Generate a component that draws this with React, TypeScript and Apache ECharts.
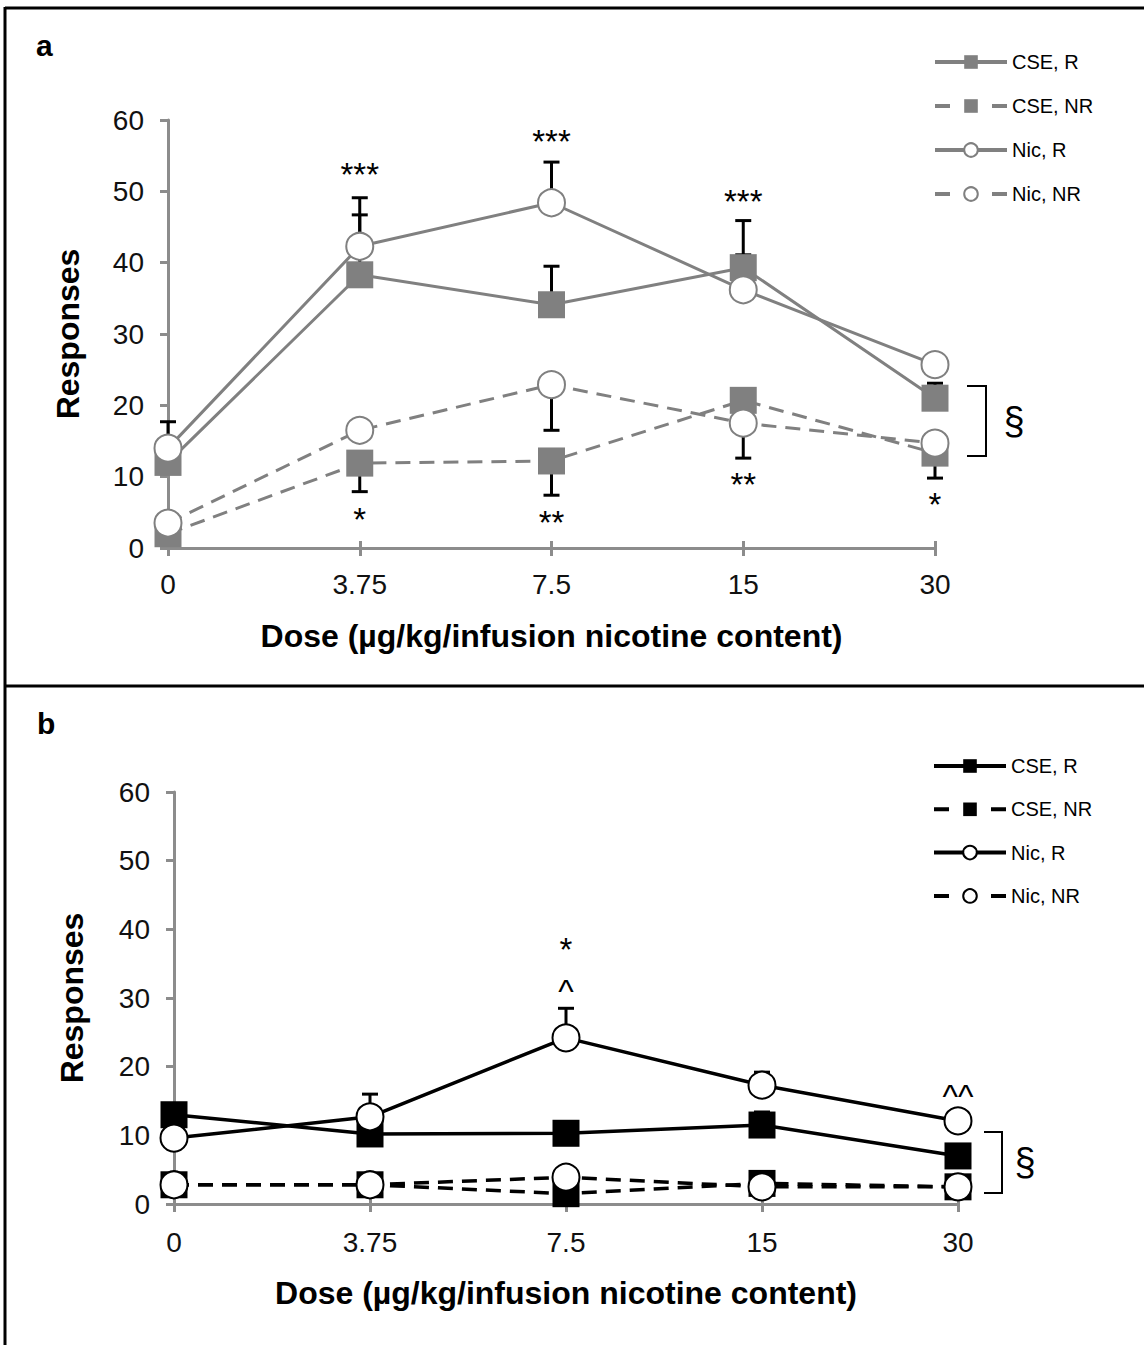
import React, { useEffect, useRef } from "react";
import * as echarts from "echarts";

const doses = ["0", "3.75", "7.5", "15", "30"];
const groupNames = ["CSE, R", "CSE, NR", "Nic, R", "Nic, NR"];
const xTitle = "Dose (µg/kg/infusion nicotine content)";
const yTitle = "Responses";

// Panel a (grey)
const aCseR = [12.0, 38.3, 34.1, 39.3, 21.0];
const aCseNR = [2.0, 11.9, 12.2, 20.7, 13.3];
const aNicR = [14.0, 42.3, 48.4, 36.2, 25.7];
const aNicNR = [3.5, 16.5, 22.9, 17.5, 14.7];
// error bars: [dose index, mean, end of bar]
const aErrors = [
  [0, 14.0, 17.7], [1, 38.3, 46.7], [1, 42.3, 49.1], [2, 34.1, 39.5], [2, 48.4, 54.1],
  [3, 39.3, 45.9], [3, 36.2, 41.1], [4, 21.0, 23.1],
  [1, 11.9, 7.9], [2, 22.9, 16.5], [2, 12.2, 7.4], [3, 17.5, 12.6], [4, 13.3, 9.8],
];
const aAnnotPos = [[1, 52.3], [2, 57.0], [3, 48.6], [1, 4.0], [2, 3.6], [3, 8.9], [4, 6.1]];
const aAnnotText = ["***", "***", "***", "*", "**", "**", "*"];
const aBracket = [[4, 22.7, 12.9]];

// Panel b (black)
const bCseR = [13.0, 10.2, 10.3, 11.5, 7.0];
const bCseNR = [2.8, 2.8, 1.5, 3.0, 2.5];
const bNicR = [9.6, 12.7, 24.2, 17.3, 12.1];
const bNicNR = [2.8, 2.8, 3.9, 2.5, 2.5];
const bErrors = [[1, 12.7, 16.0], [2, 24.2, 28.5], [3, 17.3, 19.2], [3, 11.5, 13.4]];
const bAnnotPos = [[2, 37.0], [2, 31.0], [4, 15.7]];
const bAnnotText = ["*", "^", "^^"];
const bBracket = [[4, 10.5, 1.6]];

const FONT = "'Liberation Sans', Arial, Helvetica, sans-serif";
const AXIS_GREY = "#8c8c8c";

function buildPanel(
  idx: number,
  prefix: string,
  color: string,
  values: number[][],
  errors: number[][],
  annotPos: number[][],
  annotText: string[],
  bracket: number[][],
  br: { x0: number; x1: number; sx: number },
  lineW: number
) {
  const series: any[] = [];
  values.forEach((vals, i) => {
    const isRect = i < 2;
    const dashed = i % 2 === 1;
    series.push({
      type: "line",
      name: prefix + groupNames[i],
      data: vals,
      symbol: isRect ? "rect" : "circle",
      symbolSize: 27,
      showAllSymbol: true,
      z: 3,
      lineStyle: { color, width: lineW, type: dashed ? [15, 9] : "solid" },
      itemStyle: isRect
        ? { color, borderWidth: 0 }
        : { color: "#ffffff", borderColor: color, borderWidth: 2 },
      emphasis: { disabled: true },
    });
  });
  series.push({
    type: "custom",
    z: 2,
    data: errors,
    encode: { x: 0, y: [1, 2] },
    renderItem: (params: any, api: any) => {
      const x = api.value(0);
      const p0 = api.coord([x, api.value(1)]);
      const p1 = api.coord([x, api.value(2)]);
      return {
        type: "group",
        children: [
          { type: "line", shape: { x1: p0[0], y1: p0[1], x2: p1[0], y2: p1[1] }, style: { stroke: "#000", lineWidth: 3 } },
          { type: "line", shape: { x1: p1[0] - 8, y1: p1[1], x2: p1[0] + 8, y2: p1[1] }, style: { stroke: "#000", lineWidth: 3 } },
        ],
      };
    },
  });
  series.push({
    type: "custom",
    z: 5,
    data: annotPos,
    encode: { x: 0, y: 1 },
    renderItem: (params: any, api: any) => {
      const p = api.coord([api.value(0), api.value(1)]);
      return {
        type: "text",
        x: p[0],
        y: p[1],
        style: {
          text: annotText[params.dataIndex],
          fontSize: 33,
          fontFamily: FONT,
          fill: "#000",
          align: "center",
          verticalAlign: "middle",
        },
      };
    },
  });
  series.push({
    type: "custom",
    z: 5,
    data: bracket,
    encode: { x: 0, y: [1, 2] },
    renderItem: (params: any, api: any) => {
      const x = api.value(0);
      const pt = api.coord([x, api.value(1)]);
      const pb = api.coord([x, api.value(2)]);
      const x0 = pt[0] + br.x0;
      const x1 = pt[0] + br.x1;
      return {
        type: "group",
        children: [
          {
            type: "polyline",
            shape: { points: [[x0, pt[1]], [x1, pt[1]], [x1, pb[1]], [x0, pb[1]]] },
            style: { stroke: "#000", lineWidth: 2, fill: "none" },
          },
          {
            type: "text",
            x: pt[0] + br.sx,
            y: (pt[1] + pb[1]) / 2,
            style: { text: "§", fontSize: 38, fontFamily: FONT, fill: "#000", align: "center", verticalAlign: "middle" },
          },
        ],
      };
    },
  });
  return series;
}

function xAxes(idx: number, labelMargin: number, nameGap: number) {
  return [
    {
      type: "category",
      gridIndex: idx,
      data: doses,
      boundaryGap: false,
      axisLine: { lineStyle: { color: AXIS_GREY, width: 3 } },
      axisTick: { show: true, length: 8, lineStyle: { color: AXIS_GREY, width: 3 } },
      axisLabel: { fontSize: 28, margin: labelMargin, color: "#111", fontFamily: FONT },
      splitLine: { show: false },
      name: xTitle,
      nameLocation: "middle",
      nameGap,
      nameTextStyle: { fontSize: 32, fontWeight: "bold", color: "#000", fontFamily: FONT },
    },
    {
      type: "category",
      gridIndex: idx,
      data: doses,
      boundaryGap: false,
      position: "bottom",
      axisLine: { show: false },
      axisTick: { show: true, inside: true, length: 7, lineStyle: { color: AXIS_GREY, width: 3 } },
      axisLabel: { show: false },
      splitLine: { show: false },
    },
  ];
}

function yAxis(idx: number, nameGap: number) {
  return {
    type: "value",
    gridIndex: idx,
    min: 0,
    max: 60,
    interval: 10,
    axisLine: { show: true, lineStyle: { color: AXIS_GREY, width: 3 } },
    axisTick: { show: true, length: 8, lineStyle: { color: AXIS_GREY, width: 3 } },
    axisLabel: { fontSize: 28, margin: 24, color: "#111", fontFamily: FONT },
    splitLine: { show: false },
    name: yTitle,
    nameLocation: "middle",
    nameGap,
    nameRotate: 90,
    nameTextStyle: { fontSize: 32, fontWeight: "bold", color: "#000", fontFamily: FONT },
  };
}

function legend(prefix: string, left: number, top: number, gap: number) {
  return {
    orient: "vertical",
    left,
    top,
    padding: 0,
    itemWidth: 72,
    itemHeight: 17,
    itemGap: gap,
    selectedMode: false,
    formatter: (n: string) => n.slice(prefix.length),
    textStyle: { fontSize: 20, fontFamily: FONT, color: "#000" },
    lineStyle: { width: 4 },
    data: groupNames.map((g, i) =>
      i % 2 === 1 ? { name: prefix + g, lineStyle: { type: [15, 42], width: 4 } } : { name: prefix + g }
    ),
  };
}

export default function App() {
  const ref = useRef<HTMLDivElement>(null);
  useEffect(() => {
    if (!ref.current) return;
    const chart = echarts.init(ref.current, undefined, { renderer: "svg" });
    const seriesA = buildPanel(0, "a:", "#808080", [aCseR, aCseNR, aNicR, aNicNR], aErrors, aAnnotPos, aAnnotText, aBracket, { x0: 32, x1: 51, sx: 79 }, 3);
    const seriesB = buildPanel(1, "b:", "#000000", [bCseR, bCseNR, bNicR, bNicNR], bErrors, bAnnotPos, bAnnotText, bBracket, { x0: 26, x1: 44, sx: 67 }, 3.5);
    const xa = xAxes(0, 22, 72);
    const xb = xAxes(1, 24, 73);
    chart.setOption({
      animation: false,
      backgroundColor: "#ffffff",
      grid: [
        { left: 168, top: 120, width: 767, height: 428 },
        { left: 174, top: 792, width: 784, height: 412 },
      ],
      xAxis: [...xa, ...xb].map((a: any, i: number) => ({ ...a, gridIndex: i < 2 ? 0 : 1 })),
      yAxis: [yAxis(0, 84), yAxis(1, 86)],
      legend: [legend("a:", 933, 52, 24), legend("b:", 932, 756, 23.3)],
      series: [
        ...seriesA.map((s) => ({ ...s, xAxisIndex: 0, yAxisIndex: 0 })),
        ...seriesB.map((s) => ({ ...s, xAxisIndex: 2, yAxisIndex: 1 })),
      ],
      graphic: [
        { type: "line", shape: { x1: 5, y1: 8, x2: 1144, y2: 8 }, style: { stroke: "#000", lineWidth: 3 } },
        { type: "line", shape: { x1: 5, y1: 7, x2: 5, y2: 1345 }, style: { stroke: "#000", lineWidth: 3 } },
        { type: "line", shape: { x1: 5, y1: 686, x2: 1144, y2: 686 }, style: { stroke: "#000", lineWidth: 3 } },
        { type: "text", left: 36, top: 30, style: { text: "a", fontSize: 30, fontWeight: "bold", fontFamily: FONT, fill: "#000" } },
        { type: "text", left: 37, top: 708, style: { text: "b", fontSize: 30, fontWeight: "bold", fontFamily: FONT, fill: "#000" } },
      ],
    });
    return () => chart.dispose();
  }, []);
  return (
    <div
      ref={ref}
      style={{ position: "absolute", left: 0, top: 0, width: 1144, height: 1345, background: "#fff" }}
    />
  );
}
